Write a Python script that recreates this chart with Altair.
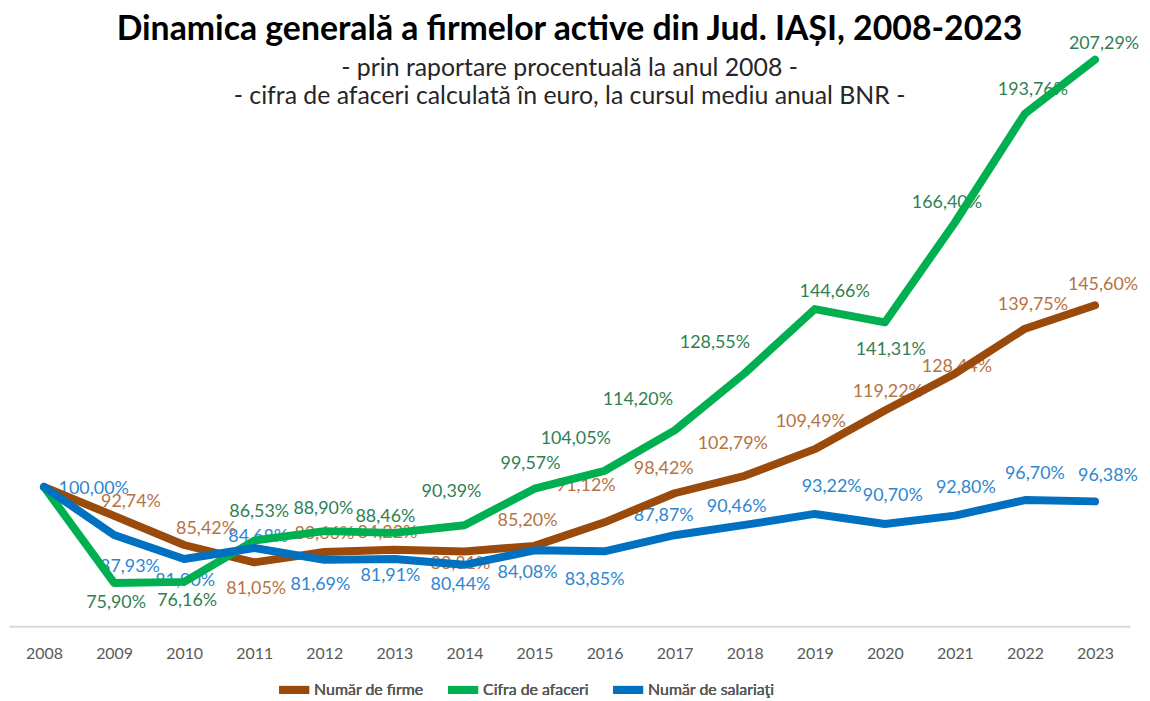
import altair as alt
import pandas as pd

# ---- data ----
years = list(range(2008, 2024))
firme = [100.00, 92.74, 85.42, 81.05, 83.66, 84.22, 83.81, 85.20, 91.12, 98.42,
         102.79, 109.49, 119.22, 128.44, 139.75, 145.60]
cifra = [100.00, 75.90, 76.16, 86.53, 88.90, 88.46, 90.39, 99.57, 104.05, 114.20,
         128.55, 144.66, 141.31, 166.40, 193.76, 207.29]
salariati = [100.00, 87.93, 81.90, 84.68, 81.69, 81.91, 80.44, 84.08, 83.85, 87.87,
             90.46, 93.22, 90.70, 92.80, 96.70, 96.38]
series_names = ["Număr de firme", "Cifra de afaceri", "Număr de salariaţi"]

title = "Dinamica generală a firmelor active din Jud. IAȘI, 2008-2023"
subtitle1 = "- prin raportare procentuală la anul 2008 -"
subtitle2 = "- cifra de afaceri calculată în euro, la cursul mediu anual BNR -"

# ---- label placement offsets (pixels, dx, dy); None = no label ----
off_firme = [None, (17, -14), (22, -16), (2, 27), (0, -18), (-7, -17), (-4, 13), (-7, -25),
             (-19, -36), (-11, -24), (-12, -32), (-4, -27), (3, -18), (2, -7), (8, -24), (8, -20)]
off_cifra = [None, (2, 20), (3, 19), (5, -29), (-1, -22), (-9, -16), (-13, -33), (-4, -25),
             (-29, -32), (-37, -31), (-30, -30), (20, -17), (6, 28), (-8, -20), (8, -24), (9, -16)]
off_sal = [(50, 2), (16, 32), (1, 22), (4, -11), (-4, 25), (-4, 17), (-4, 20), (-7, 23),
           (-10, 29), (-11, -19), (-8, -18), (17, -27), (8, -28), (11, -28), (10, -26), (13, -25)]

# ---- layout ----
W, H = 1128, 589
X_DOM = [2007.5, 2023.5]
Y_DOM = [65, 212]
px_x = W / (X_DOM[1] - X_DOM[0])
px_y = H / (Y_DOM[1] - Y_DOM[0])

line_colors = ["#9A4A0B", "#00B050", "#0070C0"]
label_colors = ["#B5733F", "#2F7F52", "#2E86D1"]
FONT = "Lato"


def fmt(v):
    return f"{v:.2f}".replace(".", ",") + "%"


rows, lab_rows = [], []
for name, vals, offs in zip(series_names, [firme, cifra, salariati], [off_firme, off_cifra, off_sal]):
    for y, v, o in zip(years, vals, offs):
        rows.append({"year": y, "value": v, "series": name})
        if o is not None:
            lab_rows.append({"series": name, "lx": y + o[0] / px_x, "ly": v - o[1] / px_y, "text": fmt(v)})

df = pd.DataFrame(rows)
dfl = pd.DataFrame(lab_rows)

xscale = alt.Scale(domain=X_DOM, nice=False, zero=False)
yscale = alt.Scale(domain=Y_DOM, nice=False, zero=False)
cscale = alt.Scale(domain=series_names, range=line_colors)
lscale = alt.Scale(domain=series_names, range=label_colors)

xaxis = alt.Axis(values=years, format="d", title=None, grid=False, ticks=False,
                 domainColor="#D9D9D9", domainWidth=2, labelColor="#595959",
                 labelFont=FONT, labelFontSize=16, labelPadding=19, labelFlush=False)

labels = alt.Chart(dfl).mark_text(font=FONT, fontSize=18, baseline="middle", align="center").encode(
    x=alt.X("lx:Q", scale=xscale, axis=xaxis),
    y=alt.Y("ly:Q", scale=yscale, axis=None),
    color=alt.Color("series:N", scale=lscale, legend=None),
    text="text:N",
)

line_layers = []
for name in series_names:
    line_layers.append(
        alt.Chart(df[df.series == name]).mark_line(strokeWidth=8, strokeCap="round", strokeJoin="round").encode(
            x=alt.X("year:Q", scale=xscale, axis=xaxis),
            y=alt.Y("value:Q", scale=yscale, axis=None),
            color=alt.Color("series:N", scale=cscale, legend=alt.Legend(
                title=None, orient="none", direction="horizontal", legendX=268, legendY=634,
                symbolType="stroke", symbolSize=900, symbolStrokeWidth=8,
                labelFont=FONT, labelFontSize=16, labelFontWeight="normal", labelColor="#595959",
                labelOffset=1, columnPadding=8, values=series_names)),
        )
    )

t1 = alt.Chart(pd.DataFrame({"t": [title]})).mark_text(
    font=FONT, fontSize=34, fontWeight="bold", color="#000000",
    baseline="middle", align="center").encode(text="t:N", x=alt.value(564), y=alt.value(-11))
s1 = alt.Chart(pd.DataFrame({"t": [subtitle1]})).mark_text(
    font=FONT, fontSize=25, color="#262626",
    baseline="middle", align="center").encode(text="t:N", x=alt.value(564), y=alt.value(27))
s2 = alt.Chart(pd.DataFrame({"t": [subtitle2]})).mark_text(
    font=FONT, fontSize=25, color="#262626",
    baseline="middle", align="center").encode(text="t:N", x=alt.value(564), y=alt.value(55))

chart = alt.layer(labels, *line_layers, t1, s1, s2).resolve_scale(color="independent").properties(
    width=W, height=H,
    autosize=alt.AutoSizeParams(type="none"),
    padding={"left": 1, "top": 31, "right": 12, "bottom": 72},
).configure(background="white").configure_view(stroke=None)

chart.save("out.html", embed_options={"renderer": "svg", "actions": False})
